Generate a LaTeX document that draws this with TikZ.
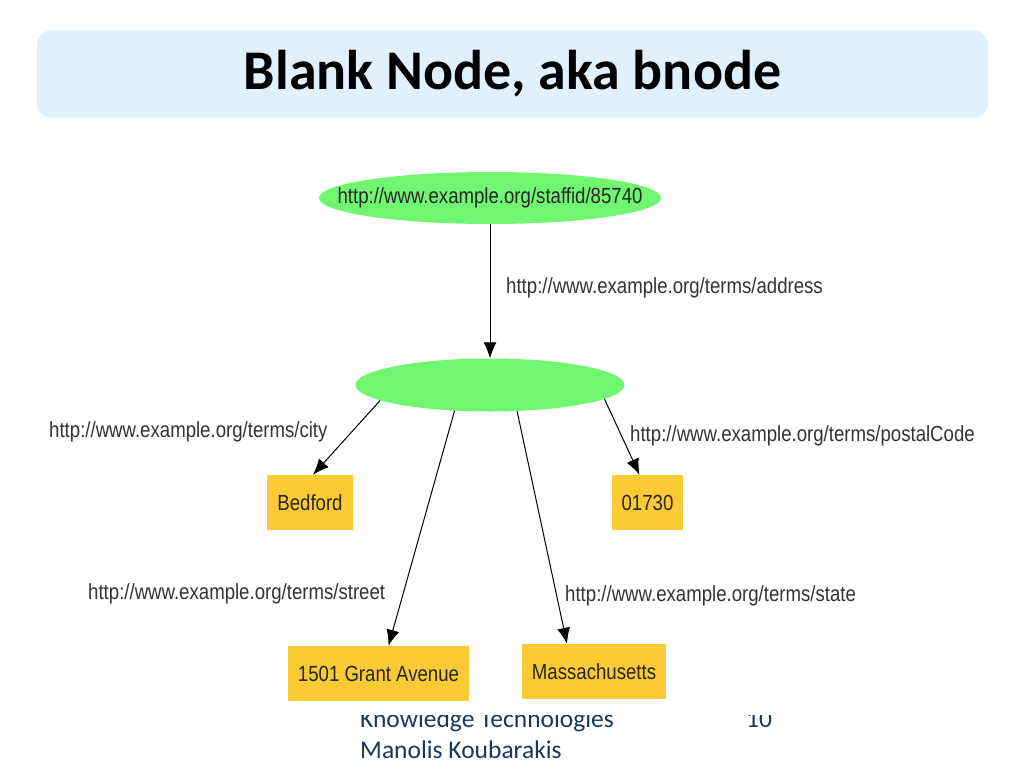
\documentclass[tikz,border=0pt]{standalone}
\usepackage{fontspec}
\setmainfont{Liberation Sans}
\newfontfamily\slidefont{Carlito}
\newfontfamily\diafont[FakeStretch=0.85]{Liberation Sans}
\usetikzlibrary{arrows.meta,shapes.geometric}

\definecolor{titlebg}{RGB}{224,241,253}
\definecolor{resgreen}{RGB}{112,246,112}
\definecolor{lityellow}{RGB}{251,202,52}
\definecolor{footblue}{RGB}{23,55,94}

\begin{document}
\begin{tikzpicture}[x=1pt,y=-1pt,
    res/.style={ellipse,fill=resgreen,inner sep=0pt,font=\diafont\fontsize{21.9}{26}\selectfont,text=black!85},
    lit/.style={rectangle,fill=lityellow,inner sep=0pt,minimum height=55pt,font=\diafont\fontsize{21.9}{26}\selectfont,text=black!85},
    lbl/.style={inner sep=0pt,anchor=west,font=\diafont\fontsize{21.9}{26}\selectfont,text=black!80},
    foot/.style={inner sep=0pt,anchor=base west,text=footblue,font=\slidefont\fontsize{25.5}{30}\selectfont},
    arr/.style={-{Latex[length=16pt,width=13pt]},line width=1pt}]
  \useasboundingbox (0,0) rectangle (1024,768);
  % slide title
  \node[fill=titlebg,rounded corners=14pt,minimum width=951pt,minimum height=87pt,
        font=\slidefont\bfseries\fontsize{56}{60}\selectfont] (title) at (512.5,74) {Blank Node, aka bnode};
  % footer
  \node[foot] (course) at (360,727) {Knowledge Technologies};
  \node[foot] (author) at (360,758) {Manolis Koubarakis};
  \node[foot] (page) at (746,727) {10};
  \fill[white] (40,130) rectangle (1000,715);
  % the graph
  \node[res,minimum width=342pt,minimum height=52pt] (staff) at (490,198) {\makebox[0pt]{http://www.example.org/staffid/85740}};
  \node[res,minimum width=269pt,minimum height=53pt] (bnode) at (490,385) {};
  \node[lit,minimum width=86pt] (bedford) at (310,502.5) {Bedford};
  \node[lit,minimum width=71pt] (postal) at (647.5,502.5) {01730};
  \node[lit,minimum width=181pt] (street) at (378.5,673.5) {1501 Grant Avenue};
  \node[lit,minimum width=144pt] (state) at (594,671.5) {Massachusetts};
  \node[lbl] (laddr) at (506,288) {http://www.example.org/terms/address};
  \node[lbl] (lcity) at (49,432) {http://www.example.org/terms/city};
  \node[lbl] (lpostal) at (630,436) {http://www.example.org/terms/postalCode};
  \node[lbl] (lstreet) at (88,594) {http://www.example.org/terms/street};
  \node[lbl] (lstate) at (565,596) {http://www.example.org/terms/state};
  \draw[arr] (staff.south) -- (bnode.north);
  \draw[arr] (bnode.-172) -- ([xshift=3pt]bedford.north);
  \draw[arr] (bnode.-144) -- ([xshift=10pt]street.north);
  \draw[arr] (bnode.-44) -- ([xshift=-27pt]state.north);
  \draw[arr] (bnode.-7) -- ([xshift=-8pt]postal.north);
\end{tikzpicture}
\end{document}
